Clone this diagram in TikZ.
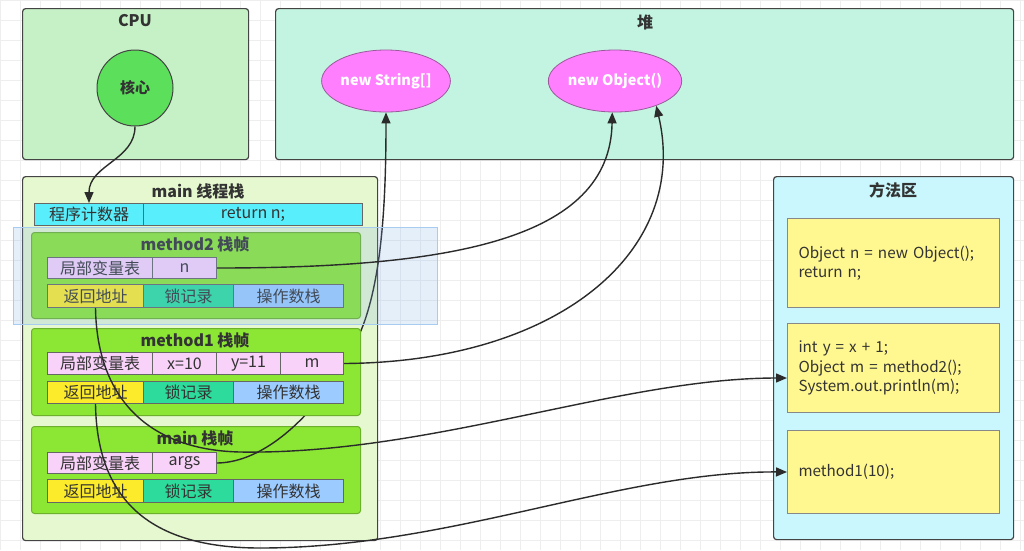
\documentclass[tikz,border=0pt]{standalone}
\usepackage{fontspec}
\setmainfont{Noto Sans CJK SC}
\usetikzlibrary{arrows.meta,calc,shapes.geometric}
\definecolor{gridc}{HTML}{EEEEEE}
\definecolor{bord}{HTML}{444444}
\definecolor{txt}{HTML}{333333}
\definecolor{cpuc}{HTML}{C6F1C6}
\definecolor{heapc}{HTML}{C3F4E1}
\definecolor{corec}{HTML}{5CE05C}
\definecolor{ellc}{HTML}{FF7FFF}
\definecolor{ellb}{HTML}{9A5A9A}
\definecolor{stackc}{HTML}{E6F8CF}
\definecolor{pcc}{HTML}{58EEFB}
\definecolor{frmc}{HTML}{8CE634}
\definecolor{frmb}{HTML}{6DB02C}
\definecolor{cellb}{HTML}{666666}
\definecolor{lvc}{HTML}{F9D2F9}
\definecolor{rac}{HTML}{FCEB2A}
\definecolor{lkc}{HTML}{2DDC9C}
\definecolor{osc}{HTML}{9CCBFF}
\definecolor{mac}{HTML}{C9F7FD}
\definecolor{codec}{HTML}{FFF78F}
\definecolor{codeb}{HTML}{888888}
\definecolor{conc}{HTML}{2B2B2B}
\definecolor{selc}{HTML}{7FAFEA}
\definecolor{selb}{HTML}{A8CBF0}
\begin{document}
\begin{tikzpicture}[x=1pt,y=-1pt,
 cont/.style={draw=bord, line width=1.2pt, rounded corners=3pt, inner sep=0pt, anchor=north west},
 frm/.style={draw=frmb, fill=frmc, line width=1pt, rounded corners=3pt, inner sep=0pt, anchor=north west},
 cell/.style={draw=cellb, line width=1pt, inner sep=0pt, anchor=north west, text=txt, font=\fontsize{16}{16}\selectfont},
 ttl/.style={text=txt, font=\bfseries\fontsize{16}{16}\selectfont},
 ell/.style={ellipse, draw=ellb, line width=0.8pt, fill=ellc, text=white, inner sep=0pt, font=\bfseries\fontsize{14.5}{14.5}\selectfont},
 codebox/.style={draw=codeb, line width=1pt, fill=codec, anchor=north west, align=left, inner xsep=11pt, inner ysep=0pt, text width=190pt, text=txt, font=\fontsize{15.2}{19.5}\selectfont},
 conn/.style={draw=conc, line width=1.4pt, -{Triangle[length=11pt,width=9pt]}},
]
\useasboundingbox (0,0) rectangle (1024,550);
\fill[white] (0,0) rectangle (1024,550);
\foreach \i in {0,20,...,1020} \draw[gridc, line width=0.8pt] (\i,0) -- (\i,550);
\foreach \j in {0,20,...,540} \draw[gridc, line width=0.8pt] (0,\j) -- (1024,\j);

% CPU
\node[cont, fill=cpuc, minimum width=226, minimum height=151] (cpu) at (22,8) {};
\node[ttl] (cputitle) at (135,21) {CPU};
\node[circle, draw=bord, line width=1pt, fill=corec, minimum size=76, inner sep=0pt, text=txt, font=\bfseries\fontsize{15}{15}\selectfont] (core) at (135,88) {核心};

% heap
\node[cont, fill=heapc, minimum width=738, minimum height=151] (heap) at (275,8) {};
\node[ttl] (heaptitle) at (645,22) {堆};
\node[ell, minimum width=128, minimum height=62] (str) at (386,81) {new String[]};
\node[ell, minimum width=130, minimum height=62] (obj) at (615,81) {new Object()};

% main thread stack
\node[cont, fill=stackc, minimum width=355, minimum height=364] (stack) at (22,176) {};
\node[ttl] (stacktitle) at (198,191) {main 线程栈};
\node[cell, fill=pcc, minimum width=109, minimum height=22] (pc) at (34,203) {程序计数器};
\node[cell, fill=pcc, minimum width=219, minimum height=22] (pcv) at (143,203) {return n;};

\coordinate (bmid) at (365,320);

% method2 frame
\node[frm, minimum width=329, minimum height=86] (fr2) at (31,232) {};
\node[ttl] (fr2t) at (195,244) {method2 栈帧};
\node[cell, fill=lvc, minimum width=105, minimum height=21] (lv2) at (47,257) {局部变量表};
\node[cell, fill=lvc, minimum width=64, minimum height=21] (n2) at (152,257) {n};
\node[cell, fill=rac, minimum width=96, minimum height=23] (ra2) at (47,284) {返回地址};
\node[cell, fill=lkc, minimum width=90, minimum height=23] (lk2) at (143,284) {锁记录};
\node[cell, fill=osc, minimum width=110, minimum height=23] (os2) at (233,284) {操作数栈};

% main frame
\node[frm, minimum width=329, minimum height=87] (fr0) at (31,426) {};
\node[ttl] (fr0t) at (195,438) {main 栈帧};
\node[cell, fill=lvc, minimum width=105, minimum height=21] (lv0) at (47,452) {局部变量表};
\node[cell, fill=lvc, minimum width=64, minimum height=21] (args) at (152,452) {args};
\node[cell, fill=rac, minimum width=96, minimum height=23] (ra0) at (47,479) {返回地址};
\node[cell, fill=lkc, minimum width=90, minimum height=23] (lk0) at (143,479) {锁记录};
\node[cell, fill=osc, minimum width=110, minimum height=23] (os0) at (233,479) {操作数栈};

% args -> new String[] (passes behind the method1 frame)
\draw[conn] (args.east) .. controls (285,462) and (348,370) .. (bmid) .. controls (382,270) and (386,200) .. (str.south);

% method1 frame
\node[frm, minimum width=329, minimum height=87] (fr1) at (31,328) {};
\node[ttl] (fr1t) at (195,340) {method1 栈帧};
\node[cell, fill=lvc, minimum width=105, minimum height=22] (lv1) at (47,352) {局部变量表};
\node[cell, fill=lvc, minimum width=64, minimum height=22] (x1) at (152,352) {x=10};
\node[cell, fill=lvc, minimum width=64, minimum height=22] (y1) at (216,352) {y=11};
\node[cell, fill=lvc, minimum width=63, minimum height=22] (m1) at (280,352) {m};
\node[cell, fill=rac, minimum width=96, minimum height=22] (ra1) at (47,381) {返回地址};
\node[cell, fill=lkc, minimum width=90, minimum height=22] (lk1) at (143,381) {锁记录};
\node[cell, fill=osc, minimum width=110, minimum height=22] (os1) at (233,381) {操作数栈};

% method area
\node[cont, fill=mac, minimum width=240, minimum height=363] (ma) at (773,176) {};
\node[ttl] (matitle) at (893,190) {方法区};
\node[codebox, minimum height=89] (b1) at (787,218) {Object n = new Object();\\return n;};
\node[codebox, minimum height=89] (b2) at (787,323) {int y = x + 1;\\Object m = method2();\\System.out.println(m);};
\node[codebox, minimum height=83] (b3) at (787,430) {method1(10);};

% selection rectangle
\fill[selc, fill opacity=0.2] (13,227) rectangle (437,324);
\draw[selb, line width=0.8pt] (13,227) rectangle (437,324);

% connectors
\draw[conn] (core.south) .. controls (135,160) and (89,165) .. (pc.north);
\draw[conn] (n2.east) .. controls (450,268) and (610,240) .. (obj.-95);
\draw[conn] (m1.east) .. controls (560,362) and (690,250) .. (obj.-31);
\coordinate (e1) at (240,452);
\coordinate (f1) at (260,548);
\draw[conn] (ra2.south) .. controls (97,400) and (150,450) .. (e1) .. controls (430,455) and (620,378) .. ($(b2.north west)+(0,55)$);
\draw[conn] (ra1.south) .. controls (97,500) and (150,548) .. (f1) .. controls (450,548) and (620,471) .. (b3.west);
\end{tikzpicture}
\end{document}
